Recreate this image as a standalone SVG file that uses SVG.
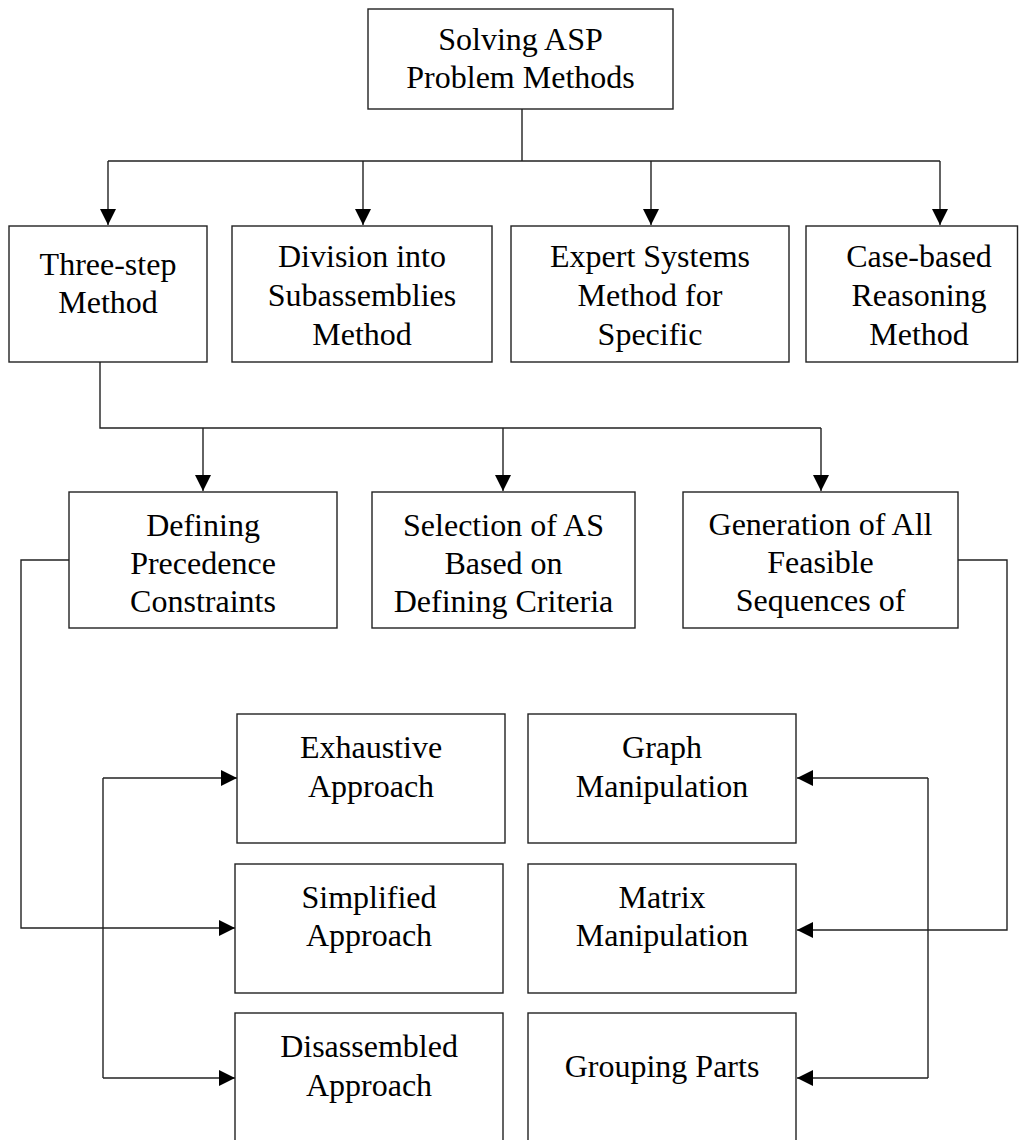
<svg xmlns="http://www.w3.org/2000/svg" width="1019" height="1140" viewBox="0 0 1019 1140">
  <style>
    .box { fill: #ffffff; stroke: #222222; stroke-width: 1.4; }
    .lbl { font-family: "Liberation Serif", "Times New Roman", serif; font-size: 32px; fill: #000000; text-anchor: middle; }
    .wire { fill: none; stroke: #222222; stroke-width: 1.4; }
    .arrow { marker-end: url(#head); }
  </style>
  <defs>
    <marker id="head" markerUnits="userSpaceOnUse" markerWidth="16" markerHeight="16" viewBox="0 0 16 16" refX="16" refY="8" orient="auto">
      <path d="M0,0 L16,8 L0,16 z" fill="#000000"/>
    </marker>
  </defs>
  <rect width="1019" height="1140" fill="#ffffff"/>

  <!-- connectors -->
  <g id="connectors">
    <!-- root to first tier -->
    <path class="wire" d="M522,109 V161 M108,161 H940"/>
    <path class="wire arrow" d="M108,161 V225"/>
    <path class="wire arrow" d="M363,161 V225"/>
    <path class="wire arrow" d="M651,161 V225"/>
    <path class="wire arrow" d="M940,161 V225"/>
    <!-- three-step method to its steps -->
    <path class="wire" d="M98,360 H100 V428 H821"/>
    <path class="wire arrow" d="M203,428 V491"/>
    <path class="wire arrow" d="M503,428 V491"/>
    <path class="wire arrow" d="M821,428 V491"/>
    <!-- precedence constraints to approaches -->
    <path class="wire arrow" d="M69,560 H21 V928 H235"/>
    <path class="wire" d="M103,778 V1078"/>
    <path class="wire arrow" d="M103,778 H237"/>
    <path class="wire arrow" d="M103,1078 H235"/>
    <!-- feasible sequences to manipulation methods -->
    <path class="wire arrow" d="M958,560 H1007 V930 H797"/>
    <path class="wire" d="M928,778 V1078"/>
    <path class="wire arrow" d="M928,778 H797"/>
    <path class="wire arrow" d="M928,1078 H797"/>
  </g>

  <g id="root">
    <rect class="box" x="368" y="9" width="305" height="100"/>
    <text class="lbl" x="520.5" y="50">Solving ASP</text>
    <text class="lbl" x="520.5" y="88">Problem Methods</text>
  </g>

  <g id="three-step">
    <rect class="box" x="9" y="226" width="198" height="136"/>
    <text class="lbl" x="108" y="275">Three-step</text>
    <text class="lbl" x="108" y="313">Method</text>
  </g>

  <g id="division">
    <rect class="box" x="232" y="226" width="260" height="136"/>
    <text class="lbl" x="362" y="267">Division into</text>
    <text class="lbl" x="362" y="306">Subassemblies</text>
    <text class="lbl" x="362" y="345">Method</text>
  </g>

  <g id="expert">
    <rect class="box" x="511" y="226" width="278" height="136"/>
    <text class="lbl" x="650" y="267">Expert Systems</text>
    <text class="lbl" x="650" y="306">Method for</text>
    <text class="lbl" x="650" y="345">Specific</text>
  </g>

  <g id="case-based">
    <rect class="box" x="806" y="226" width="211.5" height="136"/>
    <text class="lbl" x="919" y="267">Case-based</text>
    <text class="lbl" x="919" y="306">Reasoning</text>
    <text class="lbl" x="919" y="345">Method</text>
  </g>

  <g id="precedence">
    <rect class="box" x="69" y="492" width="268" height="136"/>
    <text class="lbl" x="203" y="536">Defining</text>
    <text class="lbl" x="203" y="574">Precedence</text>
    <text class="lbl" x="203" y="612">Constraints</text>
  </g>

  <g id="selection">
    <rect class="box" x="372" y="492" width="263" height="136"/>
    <text class="lbl" x="503.5" y="536">Selection of AS</text>
    <text class="lbl" x="503.5" y="574">Based on</text>
    <text class="lbl" x="503.5" y="612">Defining Criteria</text>
  </g>

  <g id="generation">
    <rect class="box" x="683" y="492" width="275" height="136"/>
    <text class="lbl" x="820.5" y="535">Generation of All</text>
    <text class="lbl" x="820.5" y="573">Feasible</text>
    <text class="lbl" x="820.5" y="611">Sequences of</text>
  </g>

  <g id="exhaustive">
    <rect class="box" x="237" y="714" width="268" height="129"/>
    <text class="lbl" x="371" y="758">Exhaustive</text>
    <text class="lbl" x="371" y="797">Approach</text>
  </g>

  <g id="simplified">
    <rect class="box" x="235" y="864" width="268" height="129"/>
    <text class="lbl" x="369" y="908">Simplified</text>
    <text class="lbl" x="369" y="946">Approach</text>
  </g>

  <g id="disassembled">
    <rect class="box" x="235" y="1013" width="268" height="140"/>
    <text class="lbl" x="369" y="1057">Disassembled</text>
    <text class="lbl" x="369" y="1096">Approach</text>
  </g>

  <g id="graph">
    <rect class="box" x="528" y="714" width="268" height="129"/>
    <text class="lbl" x="662" y="758">Graph</text>
    <text class="lbl" x="662" y="797">Manipulation</text>
  </g>

  <g id="matrix">
    <rect class="box" x="528" y="864" width="268" height="129"/>
    <text class="lbl" x="662" y="908">Matrix</text>
    <text class="lbl" x="662" y="946">Manipulation</text>
  </g>

  <g id="grouping">
    <rect class="box" x="528" y="1013" width="268" height="140"/>
    <text class="lbl" x="662" y="1077">Grouping Parts</text>
  </g>
</svg>
